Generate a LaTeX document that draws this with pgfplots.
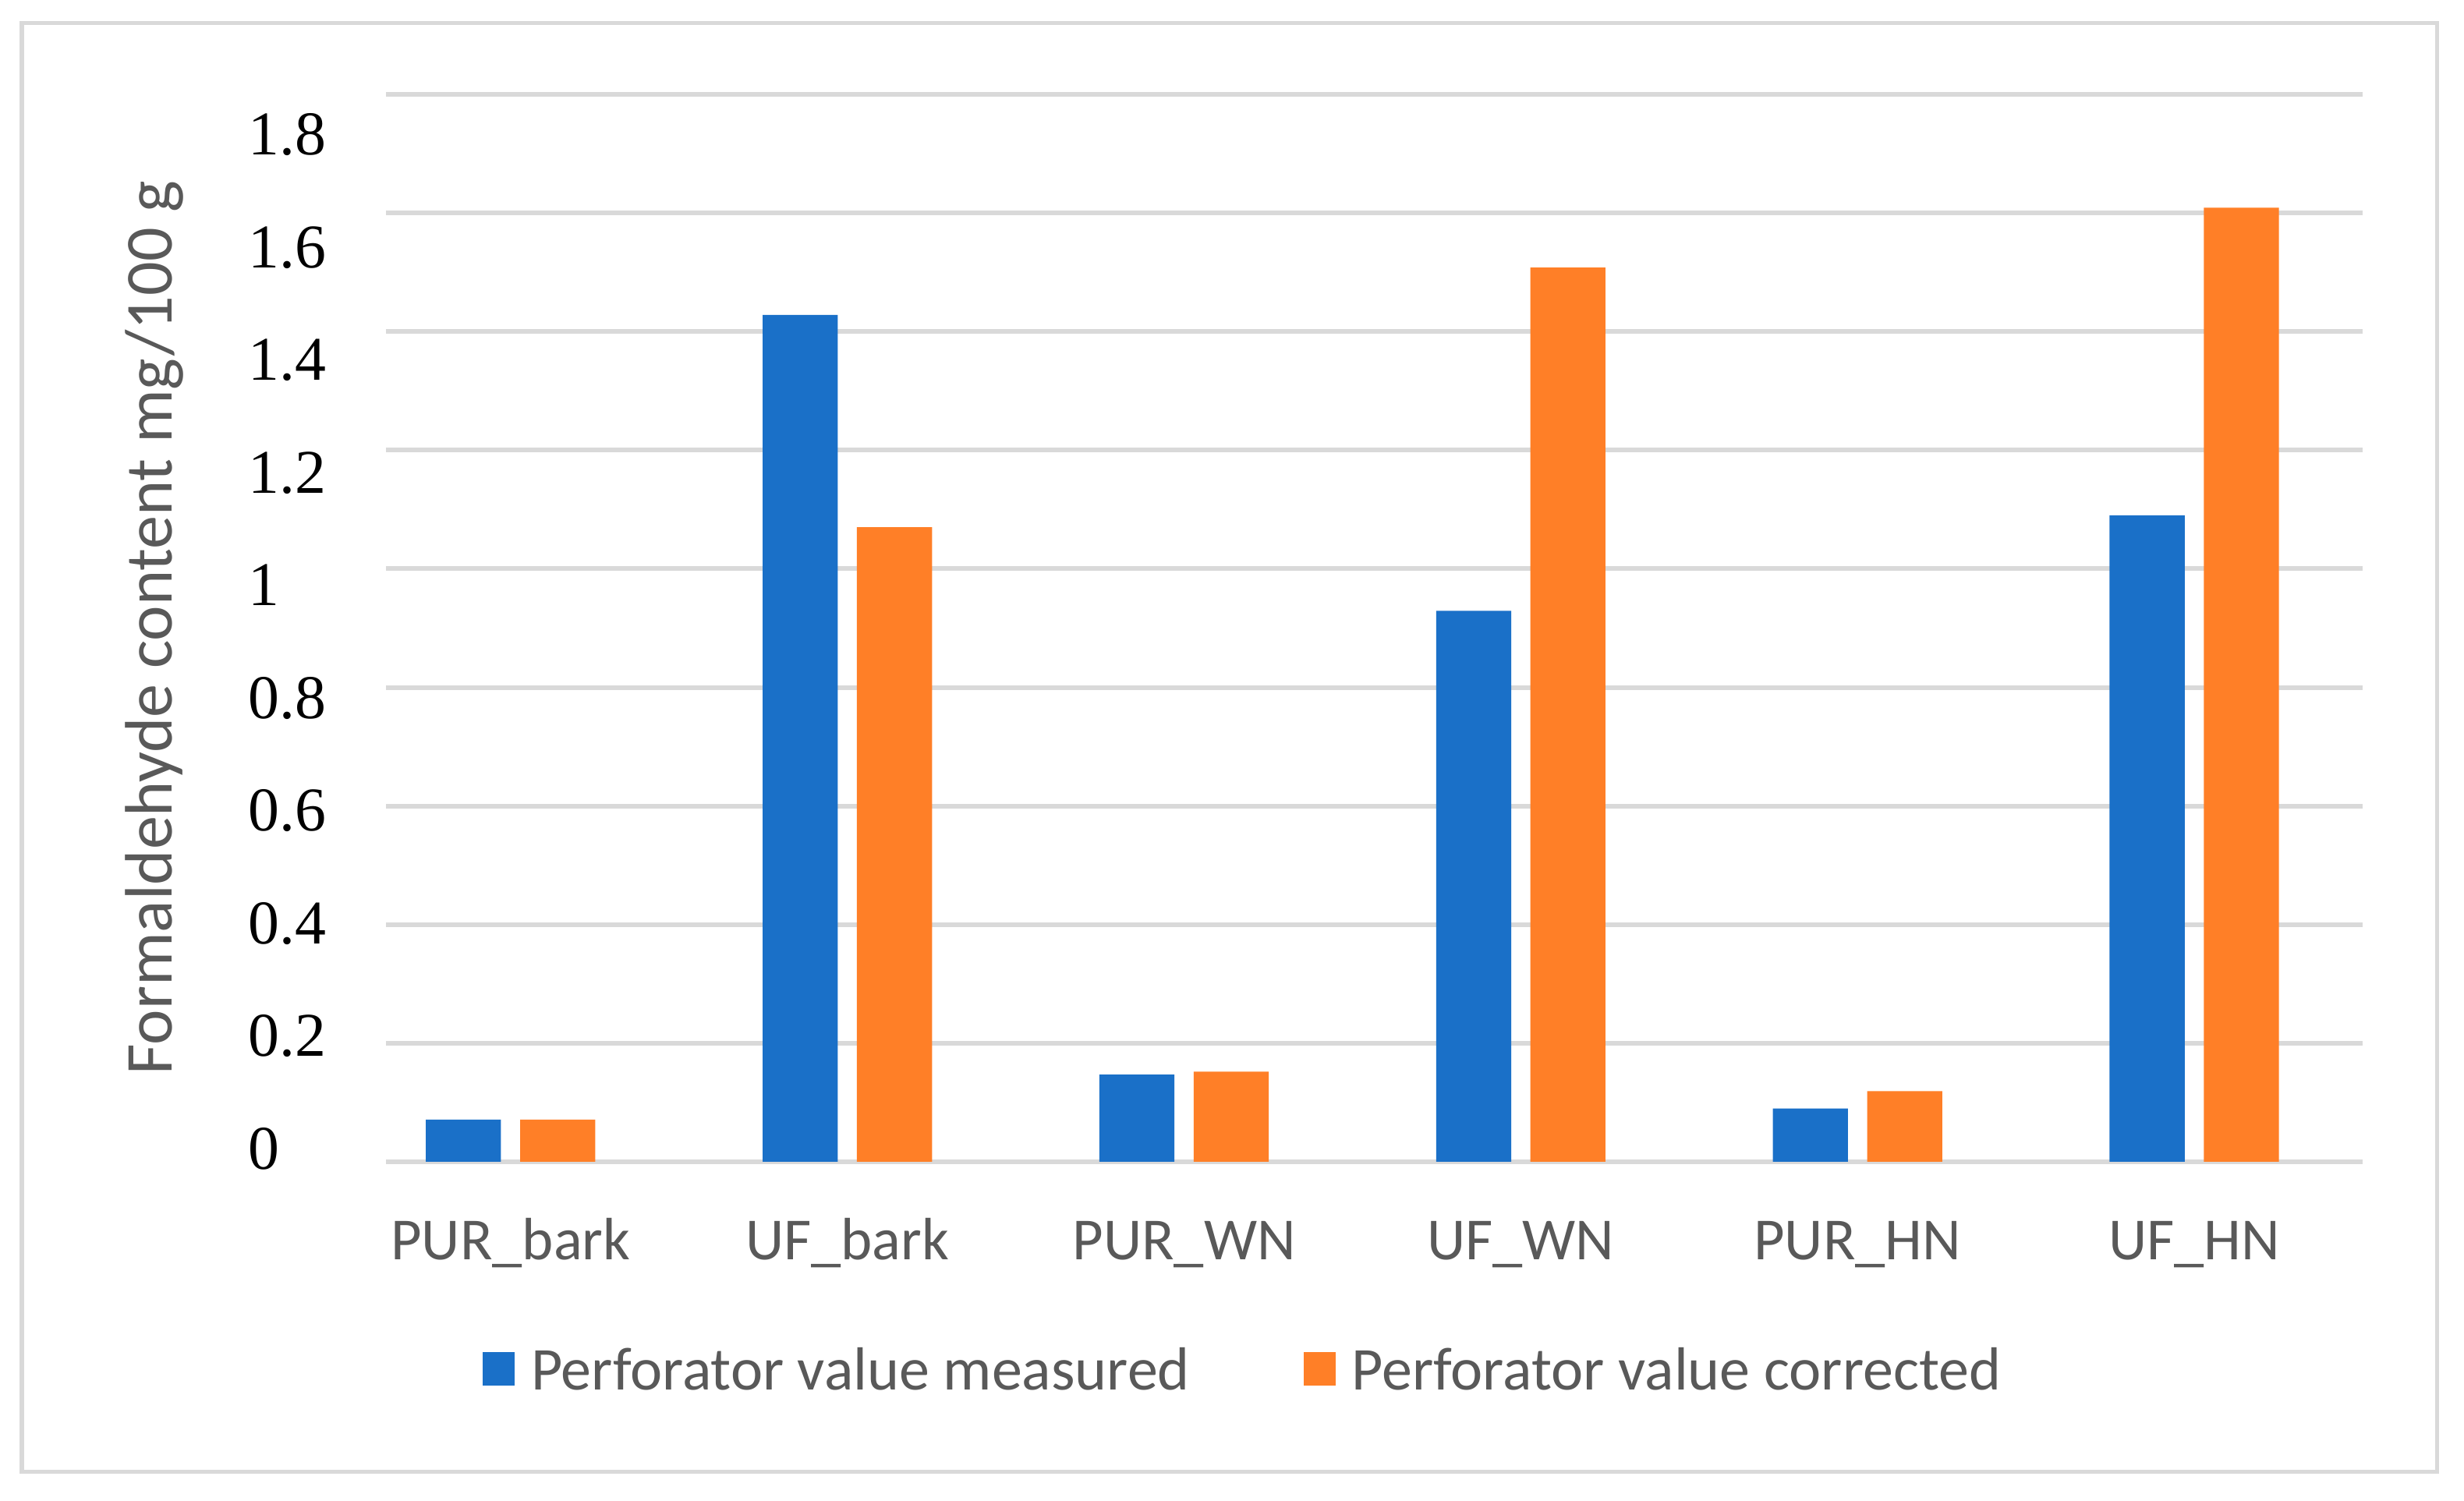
\documentclass[border=0pt]{standalone}
\usepackage{fontspec}
\setmainfont{Carlito}
\newfontfamily\tnr{Liberation Serif}
\usepackage{pgfplots}
\pgfplotsset{compat=1.18}
\definecolor{barblue}{HTML}{1A70C8}
\definecolor{barorange}{HTML}{FF7F27}
\definecolor{gridgray}{HTML}{D9D9D9}
\definecolor{labelgray}{HTML}{595959}
\pgfplotsset{
  mybar/.style={ybar, bar width=0.223, draw=none,
    legend image code/.code={\fill[##1] (0cm,-0.19cm) rectangle (0.41cm,0.24cm);}},
}
\begin{document}
\begin{tikzpicture}
\useasboundingbox (0,0) rectangle (31.6,19.25);
\fill[white] (0,0) rectangle (31.6,19.25);
\draw[gridgray, line width=0.05cm] (0.28,0.37) rectangle (31.25,18.95);
\begin{axis}[
  at={(4.95cm,4.35cm)}, anchor=south west,
  scale only axis, width=25.35cm, height=13.69cm,
  xmin=-0.37, xmax=5.5, ymin=0, ymax=1.8,
  axis line style={draw=none},
  major tick length=0pt,
  ymajorgrids, major grid style={gridgray, line width=0.06cm},
  ytick={0,0.2,0.4,0.6,0.8,1,1.2,1.4,1.6,1.8},
  yticklabels={\raisebox{-0.095cm}{0},\raisebox{-0.171cm}{0.2},\raisebox{-0.247cm}{0.4},\raisebox{-0.323cm}{0.6},\raisebox{-0.399cm}{0.8},\raisebox{-0.475cm}{1},\raisebox{-0.551cm}{1.2},\raisebox{-0.627cm}{1.4},\raisebox{-0.703cm}{1.6},\raisebox{-0.779cm}{1.8}},
  yticklabel style={anchor=base west, inner sep=0pt, xshift=-1.77cm, font=\tnr\fontsize{22.7}{27}\selectfont, text=black},
  xtick={0,1,2,3,4,5},
  xticklabels={PUR\_bark,UF\_bark,PUR\_WN,UF\_WN,PUR\_HN,UF\_HN},
  xticklabel style={anchor=base, inner sep=0pt, yshift=-1.25cm, font=\fontsize{21.8}{26}\selectfont, text=labelgray},
  ylabel={Formaldehyde content mg/100 g},
  ylabel style={at={(axis description cs:-0.117,0.5)}, anchor=center, font=\fontsize{24.5}{29}\selectfont, text=labelgray},
  legend columns=2,
  legend style={at={(axis description cs:0.433,-0.196)}, anchor=center, draw=none, fill=none, inner sep=0pt,
    nodes={inner sep=0pt}, font=\fontsize{22.2}{26}\selectfont, text=labelgray,
    /tikz/every odd column/.append style={column sep=0.21cm},
    /tikz/every even column/.append style={column sep=1.46cm}},
]
\addplot[mybar, fill=barblue, bar shift=-0.14] coordinates {(0,0.071) (1,1.428) (2,0.147) (3,0.929) (4,0.090) (5,1.090)};
\addlegendentry{Perforator value measured}
\addplot[mybar, fill=barorange, bar shift=0.14] coordinates {(0,0.071) (1,1.070) (2,0.152) (3,1.508) (4,0.119) (5,1.609)};
\addlegendentry{Perforator value corrected}
\end{axis}
\end{tikzpicture}
\end{document}
